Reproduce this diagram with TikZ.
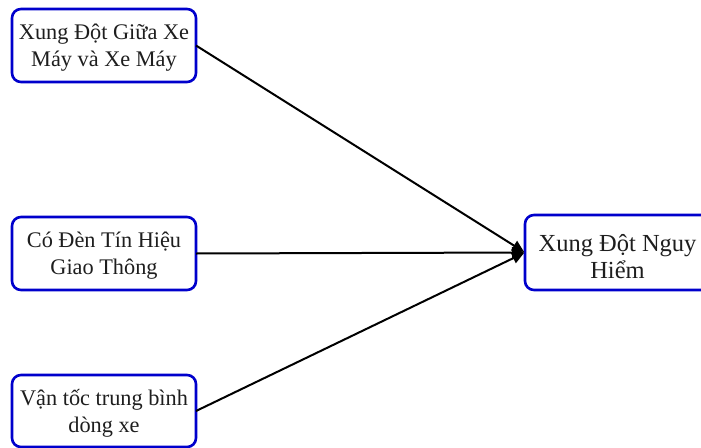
\documentclass[tikz,border=0pt]{standalone}
\usepackage{fontspec}
\setmainfont{Liberation Serif}
\usetikzlibrary{arrows.meta}
\definecolor{boxblue}{RGB}{0,0,204}
\definecolor{txt}{RGB}{30,30,30}
\begin{document}
\begin{tikzpicture}[x=1pt,y=-1pt,
  factor/.style={draw=boxblue, line width=2.6pt, rounded corners=9pt, fill=white,
    minimum width=184pt, minimum height=73pt, inner sep=0pt, outer sep=0pt},
  lbl/.style={align=center, text=txt, inner sep=0pt, yshift=-2.5pt,
    font=\fontsize{22.3pt}{27pt}\selectfont},
  biglbl/.style={lbl, yshift=-1.5pt, font=\fontsize{24.5pt}{27.5pt}\selectfont},
  link/.style={draw=black, line width=2pt, -{Triangle[length=12pt,width=11pt]}, shorten >=1pt}]
\useasboundingbox (0,0) rectangle (701,447);
\clip (0,0) rectangle (701,447);
\fill[white] (0,0) rectangle (701,447);
\node[factor, label={[lbl]center:{Xung Đột Giữa Xe\\Máy và Xe Máy}}] (a) at (104,45.5) {};
\node[factor, label={[lbl]center:{Có Đèn Tín Hiệu\\Giao Thông}}] (b) at (104,253.5) {};
\node[factor, minimum height=72pt, label={[lbl]center:{Vận tốc trung bình\\dòng xe}}] (c) at (104,411) {};
\node[factor, minimum width=185pt, minimum height=75pt, label={[biglbl]center:{Xung Đột Nguy\\Hiểm}}] (d) at (617.5,252.5) {};
\draw[link] (a.east) -- (d.west);
\draw[link] (b.east) -- (d.west);
\draw[link] (c.east) -- (d.west);
\end{tikzpicture}
\end{document}
